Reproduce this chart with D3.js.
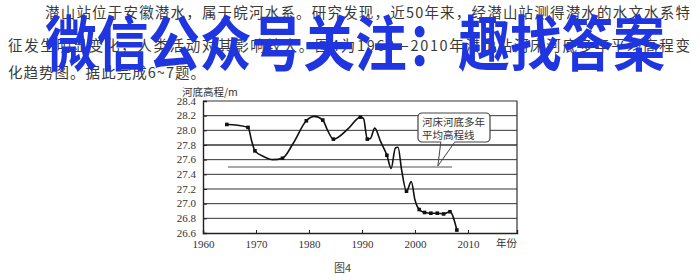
<!DOCTYPE html>
<html>
<head>
<meta charset="utf-8">
<script src="https://cdn.jsdelivr.net/npm/d3@7"></script>
<style>
  body { margin: 0; background: #fff; }
  svg { display: block; }
</style>
</head>
<body>
<svg id="fig" width="700" height="280"></svg>
<script>
// river bed elevation at Qianshan station
const years = [1964.5, 1966.5, 1968.5, 1969.2, 1969.8, 1971.5, 1973.2, 1975, 1977, 1979.5, 1981, 1982.6,
  1983.5, 1984.6, 1987.5, 1989.7, 1990.3, 1991.0, 1991.6, 1992.4, 1993.5, 1994.7, 1995.5, 1996.3,
  1996.8, 1997.5, 1998.4, 1999.3, 2000, 2000.8, 2001.8, 2003.0, 2004.2, 2005.4, 2006.6, 2007.9]
const elevation = [28.08, 28.07, 28.04, 27.85, 27.72, 27.64, 27.6, 27.62, 27.82, 28.13, 28.19, 28.14,
  28.0, 27.88, 28.03, 28.18, 28.16, 27.88, 27.89, 28.03, 27.85, 27.66, 27.48, 27.76,
  27.77, 27.45, 27.17, 27.30, 27.05, 26.92, 26.88, 26.87, 26.87, 26.86, 26.89, 26.64]
const marked = [1, 0, 1, 0, 1, 0, 0, 1, 0, 1, 0, 1,
  0, 1, 0, 1, 0, 1, 0, 0, 0, 1, 0, 0,
  0, 0, 1, 0, 0, 1, 1, 1, 1, 1, 1, 1]

const yTicks = [26.6, 26.8, 27.0, 27.2, 27.4, 27.6, 27.8, 28.0, 28.2, 28.4]
const xTicks = [1960, 1970, 1980, 1990, 2000, 2010]
const meanLevel = 27.5
const meanSpan = [1964.7, 2007]

const intro = [
  '潜山站位于安徽潜水，属于皖河水系。研究发现，近50年来，经潜山站测得潜水的水文水系特',
  '征发生明显变化，人类活动对其影响较大。图4为1960—2010年潜山站河床河底多年平均高程变',
  '化趋势图。据此完成6~7题。'
]
const watermark = '微信公众号关注：趣找答案'

const svg = d3.select('#fig')
const serif = '"Liberation Serif", "DejaVu Serif", serif'
const cjk = '"Noto Sans CJK SC", sans-serif'

// question text
const introPos = [
  { x: 45, y: 18, len: 645 },
  { x: 8, y: 51, len: 682 },
  { x: 8, y: 78, len: 197 }
]
svg.selectAll('.intro')
  .data(intro)
  .enter()
  .append('text')
    .attr('class', 'intro')
    .attr('x', (d, i) => introPos[i].x)
    .attr('y', (d, i) => introPos[i].y)
    .attr('textLength', (d, i) => introPos[i].len)
    .attr('lengthAdjust', 'spacing')
    .attr('font-family', cjk)
    .attr('font-size', 14.5)
    .attr('fill', '#3a3a3a')
    .text(d => d)

// chart
const x = d3.scaleLinear().domain([1960, 2019.25]).range([203, 517])
const y = d3.scaleLinear().domain([26.6, 28.4]).range([233, 101])

const grid = svg.append('g').attr('class', 'grid')
grid.selectAll('line')
  .data(yTicks.slice(1, -1))
  .enter()
  .append('line')
    .attr('x1', x.range()[0])
    .attr('x2', x.range()[1])
    .attr('y1', d => y(d))
    .attr('y2', d => y(d))
    .attr('stroke', '#333')
    .attr('stroke-width', d => d === 27.8 ? 1.6 : 1)

// frame top and right
svg.append('path')
  .attr('d', `M${x.range()[0]},${y(28.4)}H${x.range()[1]}V${y(26.6)}`)
  .attr('fill', 'none')
  .attr('stroke', '#333')
  .attr('stroke-width', 1.2)

const yAxis = d3.axisLeft(y)
  .tickValues(yTicks)
  .tickSize(-4)
  .tickPadding(7)
  .tickFormat(d3.format('.1f'))
const xAxis = d3.axisBottom(x)
  .tickValues(xTicks)
  .tickSize(-3)
  .tickPadding(7)
  .tickFormat(d3.format('d'))

const gy = svg.append('g')
  .attr('transform', `translate(${x.range()[0]},0)`)
  .call(yAxis)
const gx = svg.append('g')
  .attr('transform', `translate(0,${y.range()[0]})`)
  .call(xAxis)

;[gx, gy].forEach(g => {
  g.select('.domain').attr('stroke', '#222').attr('stroke-width', 1.4)
  g.selectAll('.tick line').attr('stroke', '#222')
  g.selectAll('.tick text')
    .attr('font-family', serif)
    .attr('font-size', 11)
    .attr('fill', '#333')
})
gy.selectAll('.tick text').attr('dy', '0.3em')

// multi-year mean line
svg.append('line')
  .attr('x1', x(meanSpan[0]))
  .attr('x2', x(meanSpan[1]))
  .attr('y1', y(meanLevel))
  .attr('y2', y(meanLevel))
  .attr('stroke', '#8a8a8a')
  .attr('stroke-width', 1.3)

const pts = years.map((yr, i) => ({ year: yr, value: elevation[i], mark: marked[i] }))

const line = d3.line()
  .x(d => x(d.year))
  .y(d => y(d.value))
  .curve(d3.curveMonotoneX)

svg.append('path')
  .datum(pts)
  .attr('d', line)
  .attr('fill', 'none')
  .attr('stroke', '#111')
  .attr('stroke-width', 1.6)

svg.selectAll('.mark')
  .data(pts.filter(d => d.mark))
  .enter()
  .append('rect')
    .attr('class', 'mark')
    .attr('x', d => x(d.year) - 1.8)
    .attr('y', d => y(d.value) - 1.8)
    .attr('width', 3.6)
    .attr('height', 3.6)
    .attr('fill', '#111')

// callout
const tipX = x(2004.5)
svg.append('path')
  .attr('d', `M${tipX + 2},142 L${tipX - 1},${y(meanLevel) - 1} L${tipX + 16},142`)
  .attr('fill', 'none')
  .attr('stroke', '#444')
  .attr('stroke-width', 1)
svg.append('rect')
  .attr('x', 418).attr('y', 113)
  .attr('width', 72).attr('height', 29)
  .attr('rx', 4)
  .attr('fill', '#fff')
  .attr('stroke', '#444')
  .attr('stroke-width', 1.2)
svg.append('line')
  .attr('x1', tipX + 2.5).attr('x2', tipX + 15.5)
  .attr('y1', 142).attr('y2', 142)
  .attr('stroke', '#fff').attr('stroke-width', 2)
svg.selectAll('.callout')
  .data(['河床河底多年', '平均高程线'])
  .enter()
  .append('text')
    .attr('class', 'callout')
    .attr('x', 422)
    .attr('y', (d, i) => 126 + i * 13)
    .attr('font-family', cjk)
    .attr('font-size', 10.5)
    .attr('fill', '#333')
    .text(d => d)

// axis titles and caption
svg.append('text')
  .attr('x', 182).attr('y', 96)
  .attr('font-family', cjk)
  .attr('font-size', 10.5)
  .attr('fill', '#333')
  .text('河底高程/m')
svg.append('text')
  .attr('x', 496).attr('y', 247)
  .attr('font-family', cjk)
  .attr('font-size', 10.5)
  .attr('fill', '#333')
  .text('年份')
svg.append('text')
  .attr('x', 334).attr('y', 272)
  .attr('font-family', cjk)
  .attr('font-size', 11)
  .attr('fill', '#444')
  .text('图4')

// overlaid watermark
svg.append('text')
  .attr('x', 45).attr('y', 66)
  .attr('textLength', 620)
  .attr('lengthAdjust', 'spacingAndGlyphs')
  .attr('font-family', cjk)
  .attr('font-weight', 700)
  .attr('font-size', 60)
  .attr('fill', '#1f35e0')
  .text(watermark)
</script>
</body>
</html>
